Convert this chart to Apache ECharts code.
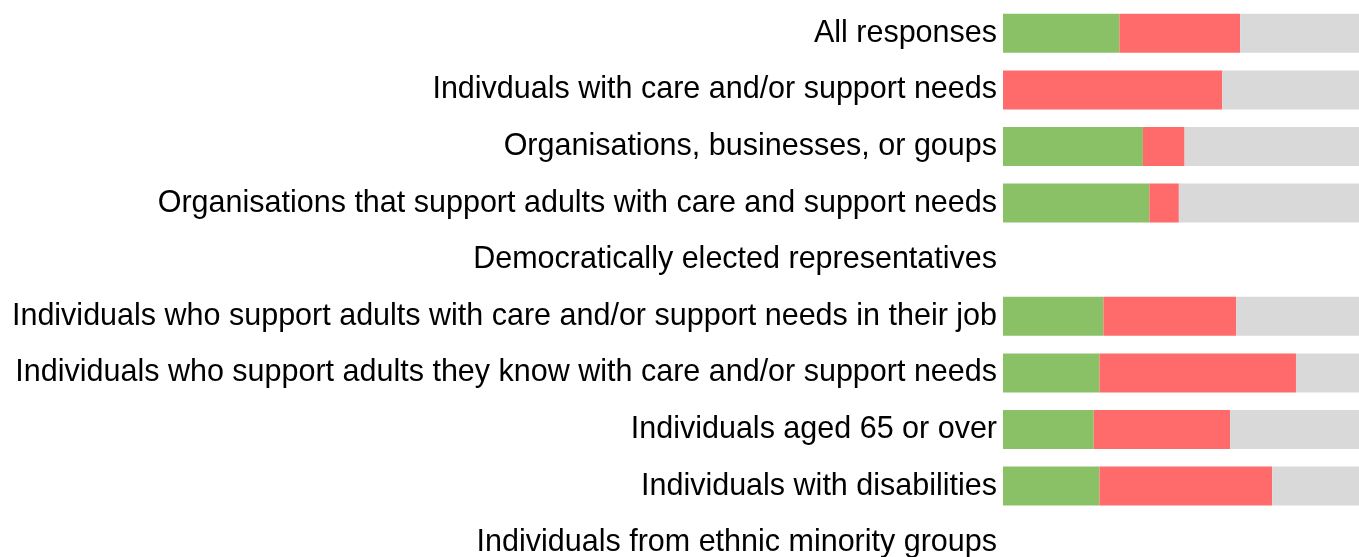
<!DOCTYPE html>
<html><head><meta charset="utf-8">
<script src="https://cdn.jsdelivr.net/npm/echarts@6/dist/echarts.min.js"></script>
<style>html,body{margin:0;padding:0;background:#fff;overflow:hidden;}#c{width:1359px;height:580px;}</style>
</head><body><div id="c"></div>
<script>
const categories = [
  "All responses",
  "Indivduals with care and/or support needs",
  "Organisations, businesses, or goups",
  "Organisations that support adults with care and support needs",
  "Democratically elected representatives",
  "Individuals who support adults with care and/or support needs in their job",
  "Individuals who support adults they know with care and/or support needs",
  "Individuals aged 65 or over",
  "Individuals with disabilities",
  "Individuals from ethnic minority groups"
];
const greenValues = [32.7, 0, 39.3, 41.1, null, 28.2, 27.1, 25.5, 27.1, null];
const redValues   = [33.9, 61.6, 11.7, 8.3, null, 37.3, 55.2, 38.3, 48.5, null];
const greyValues  = [33.4, 38.4, 49.0, 50.6, null, 34.5, 17.7, 36.2, 24.4, null];

const chart = echarts.init(document.getElementById('c'), null, {renderer:'canvas'});
const common = {type:'bar', stack:'s', barWidth:39, silent:true};
chart.setOption({
  animation:false,
  grid:{left:1003, right:0, top:5, height:566, containLabel:false},
  xAxis:{type:'value', min:0, max:100, show:false},
  yAxis:{type:'category', data:categories, inverse:true,
    axisLine:{show:false}, axisTick:{show:false}, splitLine:{show:false},
    axisLabel:{color:'#000', fontFamily:'Liberation Sans, Arial, sans-serif', fontSize:30.5, margin:6}},
  series:[
    Object.assign({name:'Green', data:greenValues, itemStyle:{color:'#8BC166'}}, common),
    Object.assign({name:'Red', data:redValues, itemStyle:{color:'#FF6B6B'}}, common),
    Object.assign({name:'Grey', data:greyValues, itemStyle:{color:'#D9D9D9'}}, common)
  ]
});
</script></body></html>
